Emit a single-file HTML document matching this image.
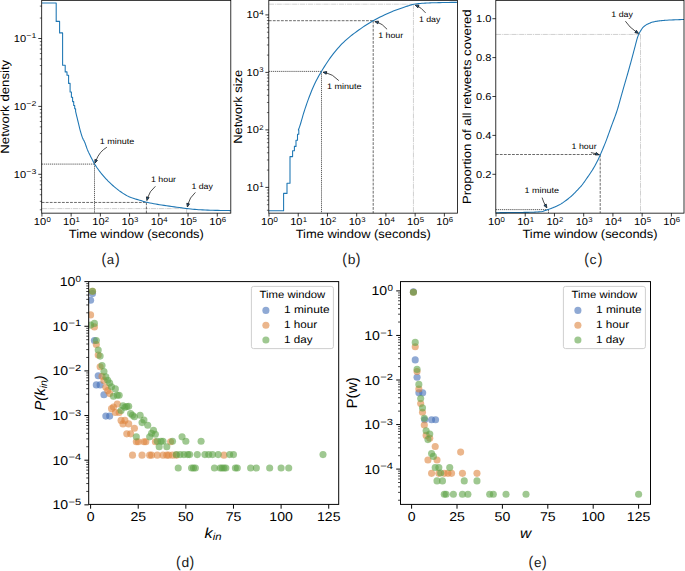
<!DOCTYPE html>
<html lang="en">
<head>
<meta charset="utf-8">
<title>Figure: time-window network statistics</title>
<style>
html,body{margin:0;padding:0;background:#fff;}
body{width:685px;height:571px;overflow:hidden;font-family:"Liberation Sans",sans-serif;}
svg{display:block;}
</style>
</head>
<body>
<svg width="685" height="571" viewBox="0 0 685 571" font-family='"Liberation Sans", sans-serif' text-rendering="geometricPrecision">
<rect x="0" y="0" width="685" height="571" fill="#fff"/>
<line x1="41.7" y1="208.6" x2="186.6" y2="208.6" stroke="#c2c2c2" stroke-width="0.78" stroke-dasharray="5.2 0.8 1.0 0.8"/>
<line x1="186.6" y1="208.6" x2="186.6" y2="213.15" stroke="#c2c2c2" stroke-width="0.78" stroke-dasharray="5.2 0.8 1.0 0.8"/>
<line x1="41.7" y1="202.45" x2="146.4" y2="202.45" stroke="#3a3a3a" stroke-width="0.75" stroke-dasharray="2.8 1.25"/>
<line x1="146.4" y1="202.45" x2="146.4" y2="213.15" stroke="#3a3a3a" stroke-width="0.75" stroke-dasharray="2.8 1.25"/>
<line x1="41.7" y1="164.1" x2="94.5" y2="164.1" stroke="#303030" stroke-width="0.75" stroke-dasharray="1.3 0.75"/>
<line x1="94.5" y1="164.1" x2="94.5" y2="213.15" stroke="#303030" stroke-width="0.75" stroke-dasharray="1.3 0.75"/>
<clipPath id="ca"><rect x="41.7" y="0.35" width="189.1" height="212.8"/></clipPath>
<polyline points="41.9,3 56.2,3 56.2,21.4 59.6,21.4 59.6,32.9 62.6,32.9 62.6,65.2 65.2,65.2 65.2,71.9 67,71.9 67,75.2 68.6,75.2 68.6,83.4 70.1,83.4 70.1,92 71.4,92 71.4,97.3 72.6,97.3 72.6,101.6 73.7,101.6 73.7,105.5 74.7,105.5 74.7,108.7 75.6,108.7 75.6,111.5 75.6,111.5 75.89,112.69 76.17,113.88 76.46,115.07 76.75,116.26 77.04,117.45 77.33,118.64 77.61,119.82 77.9,121 78.23,122.34 78.55,123.71 78.88,125.08 79.2,126.44 79.53,127.78 79.85,129.08 80.17,130.33 80.5,131.5 80.76,132.41 81.03,133.31 81.29,134.18 81.55,135.03 81.81,135.84 82.07,136.61 82.34,137.33 82.6,138 82.86,138.6 83.12,139.15 83.39,139.65 83.65,140.13 83.91,140.61 84.17,141.1 84.44,141.63 84.7,142.2 85.03,143 85.35,143.88 85.67,144.81 86,145.77 86.33,146.74 86.65,147.68 86.97,148.58 87.3,149.4 87.96,150.93 88.62,152.38 89.29,153.76 89.95,155.09 90.61,156.38 91.27,157.65 91.94,158.92 92.6,160.2 92.85,160.69 93.1,161.19 93.35,161.68 93.6,162.17 93.85,162.66 94.1,163.12 94.35,163.57 94.6,164 95.47,165.41 96.35,166.76 97.22,168.05 98.1,169.28 98.97,170.46 99.85,171.61 100.72,172.72 101.6,173.8 102.69,175.11 103.77,176.38 104.86,177.62 105.95,178.81 107.04,179.96 108.12,181.08 109.21,182.16 110.3,183.2 111.55,184.36 112.8,185.5 114.05,186.6 115.3,187.67 116.55,188.7 117.8,189.68 119.05,190.62 120.3,191.5 121.47,192.3 122.65,193.08 123.82,193.84 125,194.57 126.17,195.25 127.35,195.89 128.52,196.48 129.7,197 131.11,197.56 132.52,198.06 133.94,198.52 135.35,198.95 136.76,199.36 138.18,199.77 139.59,200.18 141,200.6 141.62,200.8 142.25,200.99 142.88,201.19 143.5,201.39 144.12,201.58 144.75,201.77 145.38,201.94 146,202.1 147.94,202.55 149.88,202.96 151.81,203.34 153.75,203.7 155.69,204.04 157.62,204.37 159.56,204.69 161.5,205 164.06,205.4 166.62,205.79 169.19,206.15 171.75,206.51 174.31,206.85 176.88,207.2 179.44,207.55 182,207.9 182.62,207.99 183.25,208.08 183.88,208.18 184.5,208.27 185.12,208.36 185.75,208.45 186.38,208.53 187,208.6 188.94,208.81 190.88,209.01 192.81,209.2 194.75,209.38 196.69,209.54 198.62,209.68 200.56,209.8 202.5,209.9 205.06,210.01 207.62,210.11 210.19,210.19 212.75,210.27 215.31,210.34 217.88,210.4 220.44,210.45 223,210.5 223.97,210.52 224.95,210.53 225.93,210.54 226.9,210.55 227.88,210.57 228.85,210.58 229.83,210.59 230.8,210.6" fill="none" stroke="#1f77b4" stroke-width="1.08" stroke-linejoin="round" stroke-linecap="butt" clip-path="url(#ca)"/>
<line x1="38.3" y1="38.5" x2="41.7" y2="38.5" stroke="#000" stroke-width="0.78"/>
<text x="13.85" y="41.95" font-size="10.09" textLength="12.34" lengthAdjust="spacingAndGlyphs">10</text>
<text x="26.39" y="38.43" font-size="7.06" textLength="10.01" lengthAdjust="spacingAndGlyphs">−1</text>
<line x1="38.3" y1="106.4" x2="41.7" y2="106.4" stroke="#000" stroke-width="0.78"/>
<text x="13.85" y="109.85" font-size="10.09" textLength="12.34" lengthAdjust="spacingAndGlyphs">10</text>
<text x="26.39" y="106.33" font-size="7.06" textLength="10.01" lengthAdjust="spacingAndGlyphs">−2</text>
<line x1="38.3" y1="174.3" x2="41.7" y2="174.3" stroke="#000" stroke-width="0.78"/>
<text x="13.85" y="177.75" font-size="10.09" textLength="12.34" lengthAdjust="spacingAndGlyphs">10</text>
<text x="26.39" y="174.23" font-size="7.06" textLength="10.01" lengthAdjust="spacingAndGlyphs">−3</text>
<line x1="39.8" y1="209.8" x2="41.7" y2="209.8" stroke="#000" stroke-width="0.58"/>
<line x1="39.8" y1="201.32" x2="41.7" y2="201.32" stroke="#000" stroke-width="0.58"/>
<line x1="39.8" y1="194.74" x2="41.7" y2="194.74" stroke="#000" stroke-width="0.58"/>
<line x1="39.8" y1="189.36" x2="41.7" y2="189.36" stroke="#000" stroke-width="0.58"/>
<line x1="39.8" y1="184.82" x2="41.7" y2="184.82" stroke="#000" stroke-width="0.58"/>
<line x1="39.8" y1="180.88" x2="41.7" y2="180.88" stroke="#000" stroke-width="0.58"/>
<line x1="39.8" y1="177.41" x2="41.7" y2="177.41" stroke="#000" stroke-width="0.58"/>
<line x1="39.8" y1="153.86" x2="41.7" y2="153.86" stroke="#000" stroke-width="0.58"/>
<line x1="39.8" y1="141.9" x2="41.7" y2="141.9" stroke="#000" stroke-width="0.58"/>
<line x1="39.8" y1="133.42" x2="41.7" y2="133.42" stroke="#000" stroke-width="0.58"/>
<line x1="39.8" y1="126.84" x2="41.7" y2="126.84" stroke="#000" stroke-width="0.58"/>
<line x1="39.8" y1="121.46" x2="41.7" y2="121.46" stroke="#000" stroke-width="0.58"/>
<line x1="39.8" y1="116.92" x2="41.7" y2="116.92" stroke="#000" stroke-width="0.58"/>
<line x1="39.8" y1="112.98" x2="41.7" y2="112.98" stroke="#000" stroke-width="0.58"/>
<line x1="39.8" y1="109.51" x2="41.7" y2="109.51" stroke="#000" stroke-width="0.58"/>
<line x1="39.8" y1="85.96" x2="41.7" y2="85.96" stroke="#000" stroke-width="0.58"/>
<line x1="39.8" y1="74" x2="41.7" y2="74" stroke="#000" stroke-width="0.58"/>
<line x1="39.8" y1="65.52" x2="41.7" y2="65.52" stroke="#000" stroke-width="0.58"/>
<line x1="39.8" y1="58.94" x2="41.7" y2="58.94" stroke="#000" stroke-width="0.58"/>
<line x1="39.8" y1="53.56" x2="41.7" y2="53.56" stroke="#000" stroke-width="0.58"/>
<line x1="39.8" y1="49.02" x2="41.7" y2="49.02" stroke="#000" stroke-width="0.58"/>
<line x1="39.8" y1="45.08" x2="41.7" y2="45.08" stroke="#000" stroke-width="0.58"/>
<line x1="39.8" y1="41.61" x2="41.7" y2="41.61" stroke="#000" stroke-width="0.58"/>
<line x1="39.8" y1="18.06" x2="41.7" y2="18.06" stroke="#000" stroke-width="0.58"/>
<line x1="39.8" y1="6.1" x2="41.7" y2="6.1" stroke="#000" stroke-width="0.58"/>
<rect x="41.7" y="0.35" width="189.1" height="212.8" fill="none" stroke="#000" stroke-width="0.8" rx="0"/>
<line x1="41.9" y1="213.15" x2="41.9" y2="216.55" stroke="#000" stroke-width="0.78"/>
<text x="33.87" y="225.1" font-size="10.09" textLength="12.34" lengthAdjust="spacingAndGlyphs">10</text>
<text x="46.41" y="221.58" font-size="7.06" textLength="4.32" lengthAdjust="spacingAndGlyphs">0</text>
<line x1="71.13" y1="213.15" x2="71.13" y2="216.55" stroke="#000" stroke-width="0.78"/>
<text x="63.1" y="225.1" font-size="10.09" textLength="12.34" lengthAdjust="spacingAndGlyphs">10</text>
<text x="75.64" y="221.58" font-size="7.06" textLength="4.32" lengthAdjust="spacingAndGlyphs">1</text>
<line x1="100.36" y1="213.15" x2="100.36" y2="216.55" stroke="#000" stroke-width="0.78"/>
<text x="92.33" y="225.1" font-size="10.09" textLength="12.34" lengthAdjust="spacingAndGlyphs">10</text>
<text x="104.87" y="221.58" font-size="7.06" textLength="4.32" lengthAdjust="spacingAndGlyphs">2</text>
<line x1="129.59" y1="213.15" x2="129.59" y2="216.55" stroke="#000" stroke-width="0.78"/>
<text x="121.56" y="225.1" font-size="10.09" textLength="12.34" lengthAdjust="spacingAndGlyphs">10</text>
<text x="134.1" y="221.58" font-size="7.06" textLength="4.32" lengthAdjust="spacingAndGlyphs">3</text>
<line x1="158.82" y1="213.15" x2="158.82" y2="216.55" stroke="#000" stroke-width="0.78"/>
<text x="150.79" y="225.1" font-size="10.09" textLength="12.34" lengthAdjust="spacingAndGlyphs">10</text>
<text x="163.33" y="221.58" font-size="7.06" textLength="4.32" lengthAdjust="spacingAndGlyphs">4</text>
<line x1="188.05" y1="213.15" x2="188.05" y2="216.55" stroke="#000" stroke-width="0.78"/>
<text x="180.02" y="225.1" font-size="10.09" textLength="12.34" lengthAdjust="spacingAndGlyphs">10</text>
<text x="192.56" y="221.58" font-size="7.06" textLength="4.32" lengthAdjust="spacingAndGlyphs">5</text>
<line x1="217.28" y1="213.15" x2="217.28" y2="216.55" stroke="#000" stroke-width="0.78"/>
<text x="209.25" y="225.1" font-size="10.09" textLength="12.34" lengthAdjust="spacingAndGlyphs">10</text>
<text x="221.79" y="221.58" font-size="7.06" textLength="4.32" lengthAdjust="spacingAndGlyphs">6</text>
<text x="68.77" y="238.3" font-size="11.96" textLength="135.06" lengthAdjust="spacingAndGlyphs" fill="#000">Time window (seconds)</text>
<text x="-38.12" y="106.75" font-size="11.96" textLength="93.84" lengthAdjust="spacingAndGlyphs" fill="#000" transform="rotate(-90 8.8 106.75)">Network density</text>
<text x="101.4" y="264.4" font-size="15.6" textLength="4.7" lengthAdjust="spacingAndGlyphs" fill="#1a1a1a">(</text>
<text x="106.8" y="263.9" font-size="13.2" textLength="7.4" lengthAdjust="spacingAndGlyphs" fill="#1a1a1a">a</text>
<text x="114.9" y="264.4" font-size="15.6" textLength="4.7" lengthAdjust="spacingAndGlyphs" fill="#1a1a1a">)</text>
<text x="99.7" y="143.9" font-size="8.01" textLength="34.5" lengthAdjust="spacingAndGlyphs" fill="#000">1 minute</text>
<path d="M106.9 147.2 Q99.5 151.5 96 160.41" fill="none" stroke="#111" stroke-width="0.75"/>
<polygon points="94.9,163.2 94.88,159.43 97.48,160.45" fill="#1f5f96" stroke="#111" stroke-width="0.75" stroke-linejoin="miter"/>
<text x="151" y="181.7" font-size="8.01" textLength="24.98" lengthAdjust="spacingAndGlyphs" fill="#000">1 hour</text>
<path d="M155.4 186.3 Q149.3 191.5 147.67 197.7" fill="none" stroke="#111" stroke-width="0.75"/>
<polygon points="146.9,200.6 146.44,196.86 149.15,197.57" fill="#1f5f96" stroke="#111" stroke-width="0.75" stroke-linejoin="miter"/>
<text x="191.4" y="188.5" font-size="8.01" textLength="21.51" lengthAdjust="spacingAndGlyphs" fill="#000">1 day</text>
<path d="M195.4 192.4 Q189.4 197.8 188.04 204.07" fill="none" stroke="#111" stroke-width="0.75"/>
<polygon points="187.4,207 186.78,203.28 189.51,203.88" fill="#1f5f96" stroke="#111" stroke-width="0.75" stroke-linejoin="miter"/>
<line x1="268.8" y1="4.2" x2="413.45" y2="4.2" stroke="#c2c2c2" stroke-width="0.78" stroke-dasharray="5.2 0.8 1.0 0.8"/>
<line x1="413.45" y1="4.2" x2="413.45" y2="213.15" stroke="#c2c2c2" stroke-width="0.78" stroke-dasharray="5.2 0.8 1.0 0.8"/>
<line x1="268.8" y1="20.7" x2="373.2" y2="20.7" stroke="#3a3a3a" stroke-width="0.75" stroke-dasharray="2.8 1.25"/>
<line x1="373.2" y1="20.7" x2="373.2" y2="213.15" stroke="#3a3a3a" stroke-width="0.75" stroke-dasharray="2.8 1.25"/>
<line x1="268.8" y1="71.4" x2="321.5" y2="71.4" stroke="#303030" stroke-width="0.75" stroke-dasharray="1.3 0.75"/>
<line x1="321.5" y1="71.4" x2="321.5" y2="213.15" stroke="#303030" stroke-width="0.75" stroke-dasharray="1.3 0.75"/>
<clipPath id="cb"><rect x="268.8" y="0.35" width="188.8" height="212.8"/></clipPath>
<polyline points="269,210.8 283.6,210.8 283.6,193.4 287,193.4 287,183.3 290,183.3 290,156.6 292.6,156.6 292.6,150.7 294.4,150.7 294.4,146.4 296,146.4 296,140.3 297.5,140.3 297.5,134.2 298.8,134.2 298.8,130 298.4,130 298.57,129.52 298.75,129.04 298.93,128.56 299.1,128.09 299.27,127.61 299.45,127.12 299.62,126.62 299.8,126.1 300.32,124.47 300.85,122.74 301.38,120.95 301.9,119.12 302.43,117.28 302.95,115.46 303.48,113.69 304,112 304.54,110.33 305.07,108.68 305.61,107.05 306.15,105.46 306.69,103.89 307.23,102.36 307.76,100.86 308.3,99.4 309.09,97.3 309.88,95.24 310.66,93.22 311.45,91.24 312.24,89.33 313.03,87.48 313.81,85.7 314.6,84 315.45,82.25 316.3,80.57 317.15,78.94 318,77.37 318.85,75.85 319.7,74.37 320.55,72.92 321.4,71.5 322.9,69.04 324.4,66.63 325.9,64.29 327.4,62.01 328.9,59.81 330.4,57.68 331.9,55.64 333.4,53.7 334.85,51.89 336.3,50.14 337.75,48.45 339.2,46.82 340.65,45.24 342.1,43.73 343.55,42.28 345,40.9 346.46,39.57 347.93,38.3 349.39,37.08 350.85,35.9 352.31,34.76 353.77,33.65 355.24,32.57 356.7,31.5 358.75,30.03 360.8,28.59 362.85,27.18 364.9,25.81 366.95,24.49 369,23.2 371.05,21.98 373.1,20.8 375.44,19.51 377.78,18.27 380.11,17.06 382.45,15.9 384.79,14.78 387.12,13.71 389.46,12.68 391.8,11.7 393.25,11.12 394.7,10.55 396.15,10.01 397.6,9.48 399.05,8.97 400.5,8.47 401.95,7.98 403.4,7.5 404.71,7.05 406.02,6.59 407.34,6.12 408.65,5.67 409.96,5.24 411.27,4.86 412.59,4.54 413.9,4.3 415.51,4.06 417.12,3.85 418.74,3.65 420.35,3.48 421.96,3.32 423.57,3.19 425.19,3.09 426.8,3 428.45,2.93 430.1,2.86 431.75,2.81 433.4,2.76 435.05,2.72 436.7,2.67 438.35,2.64 440,2.6 442.2,2.55 444.4,2.51 446.6,2.47 448.8,2.44 451,2.4 453.2,2.37 455.4,2.34 457.6,2.3" fill="none" stroke="#1f77b4" stroke-width="1.08" stroke-linejoin="round" stroke-linecap="butt" clip-path="url(#cb)"/>
<line x1="265.4" y1="187.4" x2="268.8" y2="187.4" stroke="#000" stroke-width="0.78"/>
<text x="246.64" y="190.85" font-size="10.09" textLength="12.34" lengthAdjust="spacingAndGlyphs">10</text>
<text x="259.18" y="187.33" font-size="7.06" textLength="4.32" lengthAdjust="spacingAndGlyphs">1</text>
<line x1="265.4" y1="129.9" x2="268.8" y2="129.9" stroke="#000" stroke-width="0.78"/>
<text x="246.64" y="133.35" font-size="10.09" textLength="12.34" lengthAdjust="spacingAndGlyphs">10</text>
<text x="259.18" y="129.83" font-size="7.06" textLength="4.32" lengthAdjust="spacingAndGlyphs">2</text>
<line x1="265.4" y1="72.4" x2="268.8" y2="72.4" stroke="#000" stroke-width="0.78"/>
<text x="246.64" y="75.85" font-size="10.09" textLength="12.34" lengthAdjust="spacingAndGlyphs">10</text>
<text x="259.18" y="72.33" font-size="7.06" textLength="4.32" lengthAdjust="spacingAndGlyphs">3</text>
<line x1="265.4" y1="14.9" x2="268.8" y2="14.9" stroke="#000" stroke-width="0.78"/>
<text x="246.64" y="18.35" font-size="10.09" textLength="12.34" lengthAdjust="spacingAndGlyphs">10</text>
<text x="259.18" y="14.83" font-size="7.06" textLength="4.32" lengthAdjust="spacingAndGlyphs">4</text>
<line x1="266.9" y1="210.28" x2="268.8" y2="210.28" stroke="#000" stroke-width="0.58"/>
<line x1="266.9" y1="204.71" x2="268.8" y2="204.71" stroke="#000" stroke-width="0.58"/>
<line x1="266.9" y1="200.16" x2="268.8" y2="200.16" stroke="#000" stroke-width="0.58"/>
<line x1="266.9" y1="196.31" x2="268.8" y2="196.31" stroke="#000" stroke-width="0.58"/>
<line x1="266.9" y1="192.97" x2="268.8" y2="192.97" stroke="#000" stroke-width="0.58"/>
<line x1="266.9" y1="190.03" x2="268.8" y2="190.03" stroke="#000" stroke-width="0.58"/>
<line x1="266.9" y1="170.09" x2="268.8" y2="170.09" stroke="#000" stroke-width="0.58"/>
<line x1="266.9" y1="159.97" x2="268.8" y2="159.97" stroke="#000" stroke-width="0.58"/>
<line x1="266.9" y1="152.78" x2="268.8" y2="152.78" stroke="#000" stroke-width="0.58"/>
<line x1="266.9" y1="147.21" x2="268.8" y2="147.21" stroke="#000" stroke-width="0.58"/>
<line x1="266.9" y1="142.66" x2="268.8" y2="142.66" stroke="#000" stroke-width="0.58"/>
<line x1="266.9" y1="138.81" x2="268.8" y2="138.81" stroke="#000" stroke-width="0.58"/>
<line x1="266.9" y1="135.47" x2="268.8" y2="135.47" stroke="#000" stroke-width="0.58"/>
<line x1="266.9" y1="132.53" x2="268.8" y2="132.53" stroke="#000" stroke-width="0.58"/>
<line x1="266.9" y1="112.59" x2="268.8" y2="112.59" stroke="#000" stroke-width="0.58"/>
<line x1="266.9" y1="102.47" x2="268.8" y2="102.47" stroke="#000" stroke-width="0.58"/>
<line x1="266.9" y1="95.28" x2="268.8" y2="95.28" stroke="#000" stroke-width="0.58"/>
<line x1="266.9" y1="89.71" x2="268.8" y2="89.71" stroke="#000" stroke-width="0.58"/>
<line x1="266.9" y1="85.16" x2="268.8" y2="85.16" stroke="#000" stroke-width="0.58"/>
<line x1="266.9" y1="81.31" x2="268.8" y2="81.31" stroke="#000" stroke-width="0.58"/>
<line x1="266.9" y1="77.97" x2="268.8" y2="77.97" stroke="#000" stroke-width="0.58"/>
<line x1="266.9" y1="75.03" x2="268.8" y2="75.03" stroke="#000" stroke-width="0.58"/>
<line x1="266.9" y1="55.09" x2="268.8" y2="55.09" stroke="#000" stroke-width="0.58"/>
<line x1="266.9" y1="44.97" x2="268.8" y2="44.97" stroke="#000" stroke-width="0.58"/>
<line x1="266.9" y1="37.78" x2="268.8" y2="37.78" stroke="#000" stroke-width="0.58"/>
<line x1="266.9" y1="32.21" x2="268.8" y2="32.21" stroke="#000" stroke-width="0.58"/>
<line x1="266.9" y1="27.66" x2="268.8" y2="27.66" stroke="#000" stroke-width="0.58"/>
<line x1="266.9" y1="23.81" x2="268.8" y2="23.81" stroke="#000" stroke-width="0.58"/>
<line x1="266.9" y1="20.47" x2="268.8" y2="20.47" stroke="#000" stroke-width="0.58"/>
<line x1="266.9" y1="17.53" x2="268.8" y2="17.53" stroke="#000" stroke-width="0.58"/>
<rect x="268.8" y="0.35" width="188.8" height="212.8" fill="none" stroke="#000" stroke-width="0.8" rx="0"/>
<line x1="269" y1="213.15" x2="269" y2="216.55" stroke="#000" stroke-width="0.78"/>
<text x="260.97" y="225.1" font-size="10.09" textLength="12.34" lengthAdjust="spacingAndGlyphs">10</text>
<text x="273.51" y="221.58" font-size="7.06" textLength="4.32" lengthAdjust="spacingAndGlyphs">0</text>
<line x1="298.23" y1="213.15" x2="298.23" y2="216.55" stroke="#000" stroke-width="0.78"/>
<text x="290.2" y="225.1" font-size="10.09" textLength="12.34" lengthAdjust="spacingAndGlyphs">10</text>
<text x="302.74" y="221.58" font-size="7.06" textLength="4.32" lengthAdjust="spacingAndGlyphs">1</text>
<line x1="327.46" y1="213.15" x2="327.46" y2="216.55" stroke="#000" stroke-width="0.78"/>
<text x="319.43" y="225.1" font-size="10.09" textLength="12.34" lengthAdjust="spacingAndGlyphs">10</text>
<text x="331.97" y="221.58" font-size="7.06" textLength="4.32" lengthAdjust="spacingAndGlyphs">2</text>
<line x1="356.69" y1="213.15" x2="356.69" y2="216.55" stroke="#000" stroke-width="0.78"/>
<text x="348.66" y="225.1" font-size="10.09" textLength="12.34" lengthAdjust="spacingAndGlyphs">10</text>
<text x="361.2" y="221.58" font-size="7.06" textLength="4.32" lengthAdjust="spacingAndGlyphs">3</text>
<line x1="385.92" y1="213.15" x2="385.92" y2="216.55" stroke="#000" stroke-width="0.78"/>
<text x="377.89" y="225.1" font-size="10.09" textLength="12.34" lengthAdjust="spacingAndGlyphs">10</text>
<text x="390.43" y="221.58" font-size="7.06" textLength="4.32" lengthAdjust="spacingAndGlyphs">4</text>
<line x1="415.15" y1="213.15" x2="415.15" y2="216.55" stroke="#000" stroke-width="0.78"/>
<text x="407.12" y="225.1" font-size="10.09" textLength="12.34" lengthAdjust="spacingAndGlyphs">10</text>
<text x="419.66" y="221.58" font-size="7.06" textLength="4.32" lengthAdjust="spacingAndGlyphs">5</text>
<line x1="444.38" y1="213.15" x2="444.38" y2="216.55" stroke="#000" stroke-width="0.78"/>
<text x="436.35" y="225.1" font-size="10.09" textLength="12.34" lengthAdjust="spacingAndGlyphs">10</text>
<text x="448.89" y="221.58" font-size="7.06" textLength="4.32" lengthAdjust="spacingAndGlyphs">6</text>
<text x="295.67" y="238.3" font-size="11.96" textLength="135.06" lengthAdjust="spacingAndGlyphs" fill="#000">Time window (seconds)</text>
<text x="204.92" y="106.75" font-size="11.96" textLength="73.97" lengthAdjust="spacingAndGlyphs" fill="#000" transform="rotate(-90 241.9 106.75)">Network size</text>
<text x="342.3" y="264.4" font-size="15.6" textLength="4.7" lengthAdjust="spacingAndGlyphs" fill="#1a1a1a">(</text>
<text x="347.7" y="263.9" font-size="13.2" textLength="7.7" lengthAdjust="spacingAndGlyphs" fill="#1a1a1a">b</text>
<text x="355.8" y="264.4" font-size="15.6" textLength="4.7" lengthAdjust="spacingAndGlyphs" fill="#1a1a1a">)</text>
<text x="327" y="88.6" font-size="8.01" textLength="34.5" lengthAdjust="spacingAndGlyphs" fill="#000">1 minute</text>
<path d="M338.8 80.6 Q332.5 74 325.95 72.76" fill="none" stroke="#111" stroke-width="0.75"/>
<polygon points="323,72.2 326.7,71.48 326.18,74.23" fill="#1f5f96" stroke="#111" stroke-width="0.75" stroke-linejoin="miter"/>
<text x="378.2" y="37.8" font-size="8.01" textLength="24.98" lengthAdjust="spacingAndGlyphs" fill="#000">1 hour</text>
<path d="M387.1 29.3 Q382 23.5 377.7 22.37" fill="none" stroke="#111" stroke-width="0.75"/>
<polygon points="374.8,21.6 378.54,21.14 377.83,23.85" fill="#1f5f96" stroke="#111" stroke-width="0.75" stroke-linejoin="miter"/>
<text x="418.9" y="21.5" font-size="8.01" textLength="21.51" lengthAdjust="spacingAndGlyphs" fill="#000">1 day</text>
<path d="M425.6 12.9 Q421 7.5 417.99 6.31" fill="none" stroke="#111" stroke-width="0.75"/>
<polygon points="415.2,5.2 418.97,5.19 417.94,7.79" fill="#1f5f96" stroke="#111" stroke-width="0.75" stroke-linejoin="miter"/>
<line x1="495.8" y1="34.45" x2="640.5" y2="34.45" stroke="#c2c2c2" stroke-width="0.78" stroke-dasharray="5.2 0.8 1.0 0.8"/>
<line x1="640.5" y1="34.45" x2="640.5" y2="213.15" stroke="#c2c2c2" stroke-width="0.78" stroke-dasharray="5.2 0.8 1.0 0.8"/>
<line x1="495.8" y1="154.5" x2="600.2" y2="154.5" stroke="#3a3a3a" stroke-width="0.75" stroke-dasharray="2.8 1.25"/>
<line x1="600.2" y1="154.5" x2="600.2" y2="213.15" stroke="#3a3a3a" stroke-width="0.75" stroke-dasharray="2.8 1.25"/>
<line x1="495.8" y1="209.6" x2="548.5" y2="209.6" stroke="#303030" stroke-width="0.75" stroke-dasharray="1.3 0.75"/>
<line x1="548.5" y1="209.6" x2="548.5" y2="213.15" stroke="#303030" stroke-width="0.75" stroke-dasharray="1.3 0.75"/>
<polyline points="496,212.7 498.38,212.68 500.75,212.65 503.12,212.63 505.5,212.6 507.88,212.58 510.25,212.55 512.62,212.53 515,212.5 516.88,212.48 518.75,212.46 520.62,212.44 522.5,212.42 524.38,212.4 526.25,212.37 528.12,212.34 530,212.3 531.25,212.27 532.5,212.23 533.75,212.19 535,212.13 536.25,212.07 537.5,211.99 538.75,211.9 540,211.8 541.05,211.67 542.1,211.45 543.15,211.18 544.2,210.86 545.25,210.5 546.3,210.13 547.35,209.76 548.4,209.4 549.32,209.09 550.25,208.76 551.17,208.41 552.1,208.05 553.02,207.68 553.95,207.3 554.88,206.9 555.8,206.5 556.45,206.21 557.1,205.91 557.75,205.61 558.4,205.29 559.05,204.96 559.7,204.62 560.35,204.27 561,203.9 561.66,203.5 562.33,203.07 562.99,202.63 563.65,202.16 564.31,201.68 564.97,201.19 565.64,200.7 566.3,200.2 566.95,199.71 567.6,199.21 568.25,198.71 568.9,198.19 569.55,197.67 570.2,197.13 570.85,196.57 571.5,196 572.16,195.39 572.83,194.77 573.49,194.12 574.15,193.45 574.81,192.77 575.47,192.09 576.14,191.39 576.8,190.7 577.45,190.02 578.1,189.34 578.75,188.66 579.4,187.97 580.05,187.26 580.7,186.53 581.35,185.78 582,185 582.66,184.16 583.33,183.29 583.99,182.38 584.65,181.44 585.31,180.49 585.97,179.53 586.64,178.56 587.3,177.6 587.96,176.65 588.62,175.7 589.29,174.74 589.95,173.78 590.61,172.8 591.27,171.79 591.94,170.76 592.6,169.7 593.25,168.63 593.9,167.53 594.55,166.4 595.2,165.25 595.85,164.06 596.5,162.84 597.15,161.59 597.8,160.3 598.1,159.68 598.4,159.05 598.7,158.4 599,157.73 599.3,157.06 599.6,156.37 599.9,155.69 600.2,155 600.9,153.4 601.6,151.78 602.3,150.15 603,148.49 603.7,146.82 604.4,145.11 605.1,143.37 605.8,141.6 606.46,139.87 607.12,138.09 607.79,136.27 608.45,134.43 609.11,132.57 609.77,130.7 610.44,128.84 611.1,127 611.88,124.89 612.65,122.83 613.42,120.79 614.2,118.74 614.98,116.65 615.75,114.49 616.52,112.26 617.3,109.9 617.7,108.62 618.1,107.27 618.5,105.88 618.9,104.46 619.3,103.02 619.7,101.57 620.1,100.12 620.5,98.7 620.89,97.33 621.27,95.95 621.66,94.57 622.05,93.19 622.44,91.81 622.83,90.43 623.21,89.06 623.6,87.7 624,86.31 624.4,84.93 624.8,83.56 625.2,82.2 625.6,80.84 626,79.47 626.4,78.09 626.8,76.7 627.19,75.34 627.57,73.98 627.96,72.62 628.35,71.25 628.74,69.87 629.12,68.49 629.51,67.1 629.9,65.7 630.3,64.25 630.7,62.79 631.1,61.32 631.5,59.85 631.9,58.37 632.3,56.88 632.7,55.39 633.1,53.9 633.39,52.82 633.67,51.73 633.96,50.64 634.25,49.55 634.54,48.45 634.83,47.36 635.11,46.28 635.4,45.2 635.66,44.2 635.92,43.18 636.19,42.15 636.45,41.13 636.71,40.14 636.98,39.19 637.24,38.31 637.5,37.5 637.7,36.93 637.9,36.39 638.1,35.88 638.3,35.38 638.5,34.91 638.7,34.46 638.9,34.02 639.1,33.6 639.29,33.22 639.48,32.85 639.66,32.5 639.85,32.16 640.04,31.83 640.23,31.51 640.41,31.2 640.6,30.9 640.94,30.36 641.27,29.82 641.61,29.3 641.95,28.79 642.29,28.31 642.62,27.86 642.96,27.45 643.3,27.1 643.79,26.64 644.27,26.22 644.76,25.83 645.25,25.48 645.74,25.14 646.23,24.84 646.71,24.56 647.2,24.3 647.99,23.91 648.78,23.54 649.56,23.2 650.35,22.88 651.14,22.59 651.92,22.33 652.71,22.1 653.5,21.9 654.31,21.72 655.12,21.55 655.94,21.39 656.75,21.25 657.56,21.12 658.38,21 659.19,20.9 660,20.8 660.88,20.7 661.75,20.61 662.62,20.53 663.5,20.45 664.38,20.38 665.25,20.31 666.12,20.25 667,20.2 669.12,20.08 671.25,19.98 673.38,19.89 675.5,19.81 677.62,19.74 679.75,19.66 681.88,19.58 684,19.5" fill="none" stroke="#1f77b4" stroke-width="1.08" stroke-linejoin="round" stroke-linecap="butt"/>
<line x1="492.4" y1="174.3" x2="495.8" y2="174.3" stroke="#000" stroke-width="0.78"/>
<text x="476.07" y="177.75" font-size="10.09" textLength="15.43" lengthAdjust="spacingAndGlyphs" fill="#000">0.2</text>
<line x1="492.4" y1="135.4" x2="495.8" y2="135.4" stroke="#000" stroke-width="0.78"/>
<text x="476.07" y="138.85" font-size="10.09" textLength="15.43" lengthAdjust="spacingAndGlyphs" fill="#000">0.4</text>
<line x1="492.4" y1="96.5" x2="495.8" y2="96.5" stroke="#000" stroke-width="0.78"/>
<text x="476.07" y="99.95" font-size="10.09" textLength="15.43" lengthAdjust="spacingAndGlyphs" fill="#000">0.6</text>
<line x1="492.4" y1="57.6" x2="495.8" y2="57.6" stroke="#000" stroke-width="0.78"/>
<text x="476.07" y="61.05" font-size="10.09" textLength="15.43" lengthAdjust="spacingAndGlyphs" fill="#000">0.8</text>
<line x1="492.4" y1="18.7" x2="495.8" y2="18.7" stroke="#000" stroke-width="0.78"/>
<text x="476.07" y="22.15" font-size="10.09" textLength="15.43" lengthAdjust="spacingAndGlyphs" fill="#000">1.0</text>
<rect x="495.8" y="0.35" width="188.2" height="212.8" fill="none" stroke="#000" stroke-width="0.8" rx="0"/>
<line x1="496" y1="213.15" x2="496" y2="216.55" stroke="#000" stroke-width="0.78"/>
<text x="487.97" y="225.1" font-size="10.09" textLength="12.34" lengthAdjust="spacingAndGlyphs">10</text>
<text x="500.51" y="221.58" font-size="7.06" textLength="4.32" lengthAdjust="spacingAndGlyphs">0</text>
<line x1="525.23" y1="213.15" x2="525.23" y2="216.55" stroke="#000" stroke-width="0.78"/>
<text x="517.2" y="225.1" font-size="10.09" textLength="12.34" lengthAdjust="spacingAndGlyphs">10</text>
<text x="529.74" y="221.58" font-size="7.06" textLength="4.32" lengthAdjust="spacingAndGlyphs">1</text>
<line x1="554.46" y1="213.15" x2="554.46" y2="216.55" stroke="#000" stroke-width="0.78"/>
<text x="546.43" y="225.1" font-size="10.09" textLength="12.34" lengthAdjust="spacingAndGlyphs">10</text>
<text x="558.97" y="221.58" font-size="7.06" textLength="4.32" lengthAdjust="spacingAndGlyphs">2</text>
<line x1="583.69" y1="213.15" x2="583.69" y2="216.55" stroke="#000" stroke-width="0.78"/>
<text x="575.66" y="225.1" font-size="10.09" textLength="12.34" lengthAdjust="spacingAndGlyphs">10</text>
<text x="588.2" y="221.58" font-size="7.06" textLength="4.32" lengthAdjust="spacingAndGlyphs">3</text>
<line x1="612.92" y1="213.15" x2="612.92" y2="216.55" stroke="#000" stroke-width="0.78"/>
<text x="604.89" y="225.1" font-size="10.09" textLength="12.34" lengthAdjust="spacingAndGlyphs">10</text>
<text x="617.43" y="221.58" font-size="7.06" textLength="4.32" lengthAdjust="spacingAndGlyphs">4</text>
<line x1="642.15" y1="213.15" x2="642.15" y2="216.55" stroke="#000" stroke-width="0.78"/>
<text x="634.12" y="225.1" font-size="10.09" textLength="12.34" lengthAdjust="spacingAndGlyphs">10</text>
<text x="646.66" y="221.58" font-size="7.06" textLength="4.32" lengthAdjust="spacingAndGlyphs">5</text>
<line x1="671.38" y1="213.15" x2="671.38" y2="216.55" stroke="#000" stroke-width="0.78"/>
<text x="663.35" y="225.1" font-size="10.09" textLength="12.34" lengthAdjust="spacingAndGlyphs">10</text>
<text x="675.89" y="221.58" font-size="7.06" textLength="4.32" lengthAdjust="spacingAndGlyphs">6</text>
<text x="522.47" y="238.3" font-size="11.96" textLength="135.06" lengthAdjust="spacingAndGlyphs" fill="#000">Time window (seconds)</text>
<text x="373.77" y="106.75" font-size="11.96" textLength="194.67" lengthAdjust="spacingAndGlyphs" fill="#000" transform="rotate(-90 471.1 106.75)">Proportion of all retweets covered</text>
<text x="584.2" y="264.4" font-size="15.6" textLength="4.7" lengthAdjust="spacingAndGlyphs" fill="#1a1a1a">(</text>
<text x="589.6" y="263.9" font-size="13.2" textLength="7" lengthAdjust="spacingAndGlyphs" fill="#1a1a1a">c</text>
<text x="597.7" y="264.4" font-size="15.6" textLength="4.7" lengthAdjust="spacingAndGlyphs" fill="#1a1a1a">)</text>
<text x="524.5" y="193.4" font-size="8.01" textLength="34.5" lengthAdjust="spacingAndGlyphs" fill="#000">1 minute</text>
<path d="M542.1 197.6 Q543.6 202.5 545.31 205.25" fill="none" stroke="#111" stroke-width="0.75"/>
<polygon points="546.9,207.8 543.86,205.57 546.24,204.09" fill="#1f5f96" stroke="#111" stroke-width="0.75" stroke-linejoin="miter"/>
<text x="571.6" y="148.7" font-size="8.01" textLength="24.98" lengthAdjust="spacingAndGlyphs" fill="#000">1 hour</text>
<path d="M590.9 152.6 Q594.5 153.3 596.25 153.87" fill="none" stroke="#111" stroke-width="0.75"/>
<polygon points="599.1,154.8 595.34,155.05 596.21,152.38" fill="#1f5f96" stroke="#111" stroke-width="0.75" stroke-linejoin="miter"/>
<text x="611.3" y="16.9" font-size="8.01" textLength="21.51" lengthAdjust="spacingAndGlyphs" fill="#000">1 day</text>
<path d="M625.4 21.2 Q629.5 27.5 636.08 31.77" fill="none" stroke="#111" stroke-width="0.75"/>
<polygon points="638.6,33.4 634.9,32.67 636.42,30.32" fill="#1f5f96" stroke="#111" stroke-width="0.75" stroke-linejoin="miter"/>
<clipPath id="cd"><rect x="88.7" y="281.6" width="250" height="222.8"/></clipPath>
<g fill="#4470b8" fill-opacity="0.6" clip-path="url(#cd)">
<circle cx="90.6" cy="300.3" r="3.55"/>
<circle cx="92.5" cy="293.6" r="3.55"/>
<circle cx="94.41" cy="340.6" r="3.55"/>
<circle cx="96.31" cy="384.91" r="3.55"/>
<circle cx="98.22" cy="375.8" r="3.55"/>
<circle cx="100.12" cy="384.91" r="3.55"/>
<circle cx="103.94" cy="394.82" r="3.55"/>
<circle cx="105.84" cy="416.12" r="3.55"/>
<circle cx="109.65" cy="416.12" r="3.55"/>
</g>
<g fill="#de853f" fill-opacity="0.6" clip-path="url(#cd)">
<circle cx="90.6" cy="314.9" r="3.55"/>
<circle cx="92.5" cy="291.2" r="3.55"/>
<circle cx="94.41" cy="326.9" r="3.55"/>
<circle cx="96.31" cy="344.5" r="3.55"/>
<circle cx="98.22" cy="355" r="3.55"/>
<circle cx="100.12" cy="366.8" r="3.55"/>
<circle cx="102.03" cy="376.3" r="3.55"/>
<circle cx="103.94" cy="380.6" r="3.55"/>
<circle cx="105.84" cy="387.3" r="3.55"/>
<circle cx="107.74" cy="390.6" r="3.55"/>
<circle cx="109.65" cy="393.6" r="3.55"/>
<circle cx="111.55" cy="408.63" r="3.55"/>
<circle cx="113.46" cy="406.95" r="3.55"/>
<circle cx="115.36" cy="412.52" r="3.55"/>
<circle cx="117.27" cy="403.96" r="3.55"/>
<circle cx="119.17" cy="412.52" r="3.55"/>
<circle cx="121.08" cy="420.39" r="3.55"/>
<circle cx="122.98" cy="423.92" r="3.55"/>
<circle cx="124.89" cy="420.39" r="3.55"/>
<circle cx="126.79" cy="433.83" r="3.55"/>
<circle cx="128.7" cy="423.92" r="3.55"/>
<circle cx="130.6" cy="433.83" r="3.55"/>
<circle cx="132.51" cy="455.13" r="3.55"/>
<circle cx="134.41" cy="428.25" r="3.55"/>
<circle cx="136.32" cy="441.69" r="3.55"/>
<circle cx="138.22" cy="441.69" r="3.55"/>
<circle cx="142.03" cy="455.13" r="3.55"/>
<circle cx="143.94" cy="441.69" r="3.55"/>
<circle cx="145.84" cy="441.69" r="3.55"/>
<circle cx="149.66" cy="455.13" r="3.55"/>
<circle cx="151.56" cy="455.13" r="3.55"/>
<circle cx="155.37" cy="441.69" r="3.55"/>
<circle cx="157.27" cy="455.13" r="3.55"/>
<circle cx="162.99" cy="455.13" r="3.55"/>
<circle cx="166.8" cy="455.13" r="3.55"/>
<circle cx="168.7" cy="455.13" r="3.55"/>
<circle cx="170.61" cy="441.69" r="3.55"/>
<circle cx="172.51" cy="455.13" r="3.55"/>
<circle cx="176.32" cy="455.13" r="3.55"/>
<circle cx="223.95" cy="455.13" r="3.55"/>
</g>
<g fill="#5fa347" fill-opacity="0.6" clip-path="url(#cd)">
<circle cx="90.6" cy="325.1" r="3.55"/>
<circle cx="92.5" cy="291.2" r="3.55"/>
<circle cx="94.41" cy="323.4" r="3.55"/>
<circle cx="96.31" cy="340.5" r="3.55"/>
<circle cx="98.22" cy="350.1" r="3.55"/>
<circle cx="100.12" cy="356.1" r="3.55"/>
<circle cx="102.03" cy="365.5" r="3.55"/>
<circle cx="103.94" cy="371.6" r="3.55"/>
<circle cx="105.84" cy="376.9" r="3.55"/>
<circle cx="107.74" cy="380.2" r="3.55"/>
<circle cx="109.65" cy="383.1" r="3.55"/>
<circle cx="111.55" cy="386.8" r="3.55"/>
<circle cx="113.46" cy="396.3" r="3.55"/>
<circle cx="115.36" cy="388.9" r="3.55"/>
<circle cx="117.27" cy="395.2" r="3.55"/>
<circle cx="119.17" cy="395.2" r="3.55"/>
<circle cx="121.08" cy="410.5" r="3.55"/>
<circle cx="122.98" cy="405.7" r="3.55"/>
<circle cx="124.89" cy="407.3" r="3.55"/>
<circle cx="126.79" cy="406.6" r="3.55"/>
<circle cx="128.7" cy="406.3" r="3.55"/>
<circle cx="130.6" cy="413.6" r="3.55"/>
<circle cx="132.51" cy="415.2" r="3.55"/>
<circle cx="134.41" cy="416.8" r="3.55"/>
<circle cx="136.32" cy="436.85" r="3.55"/>
<circle cx="140.13" cy="415.2" r="3.55"/>
<circle cx="142.03" cy="422.6" r="3.55"/>
<circle cx="143.94" cy="420" r="3.55"/>
<circle cx="147.75" cy="425.2" r="3.55"/>
<circle cx="149.66" cy="436.85" r="3.55"/>
<circle cx="151.56" cy="433.32" r="3.55"/>
<circle cx="153.47" cy="430.33" r="3.55"/>
<circle cx="155.37" cy="434.32" r="3.55"/>
<circle cx="157.27" cy="441.18" r="3.55"/>
<circle cx="159.18" cy="446.76" r="3.55"/>
<circle cx="161.08" cy="441.18" r="3.55"/>
<circle cx="162.99" cy="441.18" r="3.55"/>
<circle cx="166.8" cy="446.76" r="3.55"/>
<circle cx="172.51" cy="441.18" r="3.55"/>
<circle cx="182.04" cy="436.85" r="3.55"/>
<circle cx="185.85" cy="441.18" r="3.55"/>
<circle cx="201.09" cy="441.18" r="3.55"/>
<circle cx="176.32" cy="454.62" r="3.55"/>
<circle cx="180.13" cy="454.62" r="3.55"/>
<circle cx="183.94" cy="454.62" r="3.55"/>
<circle cx="187.75" cy="454.62" r="3.55"/>
<circle cx="189.66" cy="454.62" r="3.55"/>
<circle cx="197.28" cy="454.62" r="3.55"/>
<circle cx="204.9" cy="454.62" r="3.55"/>
<circle cx="208.71" cy="454.62" r="3.55"/>
<circle cx="212.52" cy="454.62" r="3.55"/>
<circle cx="218.24" cy="454.62" r="3.55"/>
<circle cx="229.66" cy="454.62" r="3.55"/>
<circle cx="233.47" cy="454.62" r="3.55"/>
<circle cx="323.01" cy="454.62" r="3.55"/>
<circle cx="178.23" cy="468.06" r="3.55"/>
<circle cx="191.56" cy="468.06" r="3.55"/>
<circle cx="193.47" cy="468.06" r="3.55"/>
<circle cx="195.38" cy="468.06" r="3.55"/>
<circle cx="214.43" cy="468.06" r="3.55"/>
<circle cx="220.14" cy="468.06" r="3.55"/>
<circle cx="222.04" cy="468.06" r="3.55"/>
<circle cx="223.95" cy="468.06" r="3.55"/>
<circle cx="225.85" cy="468.06" r="3.55"/>
<circle cx="235.38" cy="468.06" r="3.55"/>
<circle cx="237.28" cy="468.06" r="3.55"/>
<circle cx="250.62" cy="468.06" r="3.55"/>
<circle cx="256.34" cy="468.06" r="3.55"/>
<circle cx="269.67" cy="468.06" r="3.55"/>
<circle cx="281.1" cy="468.06" r="3.55"/>
<circle cx="288.72" cy="468.06" r="3.55"/>
</g>
<line x1="84.4" y1="281.6" x2="88.7" y2="281.6" stroke="#000" stroke-width="0.98"/>
<text x="59.72" y="286.15" font-size="12.79" textLength="15.65" lengthAdjust="spacingAndGlyphs">10</text>
<text x="75.62" y="281.69" font-size="8.95" textLength="5.48" lengthAdjust="spacingAndGlyphs">0</text>
<line x1="84.4" y1="326.25" x2="88.7" y2="326.25" stroke="#000" stroke-width="0.98"/>
<text x="52.51" y="330.8" font-size="12.79" textLength="15.65" lengthAdjust="spacingAndGlyphs">10</text>
<text x="68.41" y="326.34" font-size="8.95" textLength="12.69" lengthAdjust="spacingAndGlyphs">−1</text>
<line x1="84.4" y1="370.9" x2="88.7" y2="370.9" stroke="#000" stroke-width="0.98"/>
<text x="52.51" y="375.45" font-size="12.79" textLength="15.65" lengthAdjust="spacingAndGlyphs">10</text>
<text x="68.41" y="370.99" font-size="8.95" textLength="12.69" lengthAdjust="spacingAndGlyphs">−2</text>
<line x1="84.4" y1="415.55" x2="88.7" y2="415.55" stroke="#000" stroke-width="0.98"/>
<text x="52.51" y="420.1" font-size="12.79" textLength="15.65" lengthAdjust="spacingAndGlyphs">10</text>
<text x="68.41" y="415.64" font-size="8.95" textLength="12.69" lengthAdjust="spacingAndGlyphs">−3</text>
<line x1="84.4" y1="460.2" x2="88.7" y2="460.2" stroke="#000" stroke-width="0.98"/>
<text x="52.51" y="464.75" font-size="12.79" textLength="15.65" lengthAdjust="spacingAndGlyphs">10</text>
<text x="68.41" y="460.29" font-size="8.95" textLength="12.69" lengthAdjust="spacingAndGlyphs">−4</text>
<line x1="84.4" y1="504.85" x2="88.7" y2="504.85" stroke="#000" stroke-width="0.98"/>
<text x="52.51" y="509.4" font-size="12.79" textLength="15.65" lengthAdjust="spacingAndGlyphs">10</text>
<text x="68.41" y="504.94" font-size="8.95" textLength="12.69" lengthAdjust="spacingAndGlyphs">−5</text>
<line x1="86.25" y1="491.41" x2="88.7" y2="491.41" stroke="#000" stroke-width="0.74"/>
<line x1="86.25" y1="483.55" x2="88.7" y2="483.55" stroke="#000" stroke-width="0.74"/>
<line x1="86.25" y1="477.97" x2="88.7" y2="477.97" stroke="#000" stroke-width="0.74"/>
<line x1="86.25" y1="473.64" x2="88.7" y2="473.64" stroke="#000" stroke-width="0.74"/>
<line x1="86.25" y1="470.11" x2="88.7" y2="470.11" stroke="#000" stroke-width="0.74"/>
<line x1="86.25" y1="467.12" x2="88.7" y2="467.12" stroke="#000" stroke-width="0.74"/>
<line x1="86.25" y1="464.53" x2="88.7" y2="464.53" stroke="#000" stroke-width="0.74"/>
<line x1="86.25" y1="462.24" x2="88.7" y2="462.24" stroke="#000" stroke-width="0.74"/>
<line x1="86.25" y1="446.76" x2="88.7" y2="446.76" stroke="#000" stroke-width="0.74"/>
<line x1="86.25" y1="438.9" x2="88.7" y2="438.9" stroke="#000" stroke-width="0.74"/>
<line x1="86.25" y1="433.32" x2="88.7" y2="433.32" stroke="#000" stroke-width="0.74"/>
<line x1="86.25" y1="428.99" x2="88.7" y2="428.99" stroke="#000" stroke-width="0.74"/>
<line x1="86.25" y1="425.46" x2="88.7" y2="425.46" stroke="#000" stroke-width="0.74"/>
<line x1="86.25" y1="422.47" x2="88.7" y2="422.47" stroke="#000" stroke-width="0.74"/>
<line x1="86.25" y1="419.88" x2="88.7" y2="419.88" stroke="#000" stroke-width="0.74"/>
<line x1="86.25" y1="417.59" x2="88.7" y2="417.59" stroke="#000" stroke-width="0.74"/>
<line x1="86.25" y1="402.11" x2="88.7" y2="402.11" stroke="#000" stroke-width="0.74"/>
<line x1="86.25" y1="394.25" x2="88.7" y2="394.25" stroke="#000" stroke-width="0.74"/>
<line x1="86.25" y1="388.67" x2="88.7" y2="388.67" stroke="#000" stroke-width="0.74"/>
<line x1="86.25" y1="384.34" x2="88.7" y2="384.34" stroke="#000" stroke-width="0.74"/>
<line x1="86.25" y1="380.81" x2="88.7" y2="380.81" stroke="#000" stroke-width="0.74"/>
<line x1="86.25" y1="377.82" x2="88.7" y2="377.82" stroke="#000" stroke-width="0.74"/>
<line x1="86.25" y1="375.23" x2="88.7" y2="375.23" stroke="#000" stroke-width="0.74"/>
<line x1="86.25" y1="372.94" x2="88.7" y2="372.94" stroke="#000" stroke-width="0.74"/>
<line x1="86.25" y1="357.46" x2="88.7" y2="357.46" stroke="#000" stroke-width="0.74"/>
<line x1="86.25" y1="349.6" x2="88.7" y2="349.6" stroke="#000" stroke-width="0.74"/>
<line x1="86.25" y1="344.02" x2="88.7" y2="344.02" stroke="#000" stroke-width="0.74"/>
<line x1="86.25" y1="339.69" x2="88.7" y2="339.69" stroke="#000" stroke-width="0.74"/>
<line x1="86.25" y1="336.16" x2="88.7" y2="336.16" stroke="#000" stroke-width="0.74"/>
<line x1="86.25" y1="333.17" x2="88.7" y2="333.17" stroke="#000" stroke-width="0.74"/>
<line x1="86.25" y1="330.58" x2="88.7" y2="330.58" stroke="#000" stroke-width="0.74"/>
<line x1="86.25" y1="328.29" x2="88.7" y2="328.29" stroke="#000" stroke-width="0.74"/>
<line x1="86.25" y1="312.81" x2="88.7" y2="312.81" stroke="#000" stroke-width="0.74"/>
<line x1="86.25" y1="304.95" x2="88.7" y2="304.95" stroke="#000" stroke-width="0.74"/>
<line x1="86.25" y1="299.37" x2="88.7" y2="299.37" stroke="#000" stroke-width="0.74"/>
<line x1="86.25" y1="295.04" x2="88.7" y2="295.04" stroke="#000" stroke-width="0.74"/>
<line x1="86.25" y1="291.51" x2="88.7" y2="291.51" stroke="#000" stroke-width="0.74"/>
<line x1="86.25" y1="288.52" x2="88.7" y2="288.52" stroke="#000" stroke-width="0.74"/>
<line x1="86.25" y1="285.93" x2="88.7" y2="285.93" stroke="#000" stroke-width="0.74"/>
<line x1="86.25" y1="283.64" x2="88.7" y2="283.64" stroke="#000" stroke-width="0.74"/>
<line x1="90.6" y1="504.4" x2="90.6" y2="508.7" stroke="#000" stroke-width="0.98"/>
<text x="86.69" y="520.6" font-size="12.79" textLength="7.83" lengthAdjust="spacingAndGlyphs" fill="#000">0</text>
<line x1="138.22" y1="504.4" x2="138.22" y2="508.7" stroke="#000" stroke-width="0.98"/>
<text x="130.4" y="520.6" font-size="12.79" textLength="15.65" lengthAdjust="spacingAndGlyphs" fill="#000">25</text>
<line x1="185.85" y1="504.4" x2="185.85" y2="508.7" stroke="#000" stroke-width="0.98"/>
<text x="178.02" y="520.6" font-size="12.79" textLength="15.65" lengthAdjust="spacingAndGlyphs" fill="#000">50</text>
<line x1="233.47" y1="504.4" x2="233.47" y2="508.7" stroke="#000" stroke-width="0.98"/>
<text x="225.65" y="520.6" font-size="12.79" textLength="15.65" lengthAdjust="spacingAndGlyphs" fill="#000">75</text>
<line x1="281.1" y1="504.4" x2="281.1" y2="508.7" stroke="#000" stroke-width="0.98"/>
<text x="269.36" y="520.6" font-size="12.79" textLength="23.48" lengthAdjust="spacingAndGlyphs" fill="#000">100</text>
<line x1="328.73" y1="504.4" x2="328.73" y2="508.7" stroke="#000" stroke-width="0.98"/>
<text x="316.99" y="520.6" font-size="12.79" textLength="23.48" lengthAdjust="spacingAndGlyphs" fill="#000">125</text>
<rect x="88.7" y="281.6" width="250" height="222.8" fill="none" stroke="#000" stroke-width="0.98" rx="0"/>
<rect x="251.4" y="286.4" width="82" height="62.2" fill="#fff" stroke="#cccccc" stroke-width="0.95" rx="2.2" fill-opacity="0.8"/>
<text x="259.61" y="298" font-size="10.4" textLength="65.58" lengthAdjust="spacingAndGlyphs" fill="#000">Time window</text>
<circle cx="265.9" cy="310.4" r="3.55" fill="#4470b8" fill-opacity="0.6"/>
<text x="284" y="313" font-size="10.61" textLength="45.7" lengthAdjust="spacingAndGlyphs" fill="#000">1 minute</text>
<circle cx="265.9" cy="325.2" r="3.55" fill="#de853f" fill-opacity="0.6"/>
<text x="284" y="327.8" font-size="10.61" textLength="33.09" lengthAdjust="spacingAndGlyphs" fill="#000">1 hour</text>
<circle cx="265.9" cy="340" r="3.55" fill="#5fa347" fill-opacity="0.6"/>
<text x="284" y="342.6" font-size="10.61" textLength="28.49" lengthAdjust="spacingAndGlyphs" fill="#000">1 day</text>
<text transform="rotate(-90 44.6 393)" x="26.8" y="393" font-size="14.56" font-style="italic" textLength="35.6" lengthAdjust="spacingAndGlyphs">P(k<tspan font-size="10.19" dy="2.2">in</tspan><tspan font-size="14.56" dy="-2.2">)</tspan></text>
<text x="204.6" y="537.8" font-size="14.56" font-style="italic" textLength="17.0" lengthAdjust="spacingAndGlyphs">k<tspan font-size="10.19" dy="2.2">in</tspan></text>
<text x="176" y="567.1" font-size="15.6" textLength="4.7" lengthAdjust="spacingAndGlyphs" fill="#1a1a1a">(</text>
<text x="181.4" y="566.6" font-size="13.2" textLength="7.7" lengthAdjust="spacingAndGlyphs" fill="#1a1a1a">d</text>
<text x="189.5" y="567.1" font-size="15.6" textLength="4.7" lengthAdjust="spacingAndGlyphs" fill="#1a1a1a">)</text>
<g fill="#4470b8" fill-opacity="0.6">
<circle cx="413.42" cy="291.8" r="3.55"/>
<circle cx="415.23" cy="359.89" r="3.55"/>
<circle cx="417.05" cy="377.18" r="3.55"/>
<circle cx="418.86" cy="392.87" r="3.55"/>
<circle cx="422.68" cy="392.87" r="3.55"/>
<circle cx="424.68" cy="419.69" r="3.55"/>
<circle cx="431.58" cy="419.69" r="3.55"/>
<circle cx="435.57" cy="419.69" r="3.55"/>
</g>
<g fill="#de853f" fill-opacity="0.6">
<circle cx="413.42" cy="292.2" r="3.55"/>
<circle cx="415.23" cy="346.8" r="3.55"/>
<circle cx="417.05" cy="371.5" r="3.55"/>
<circle cx="418.86" cy="389" r="3.55"/>
<circle cx="420.68" cy="403.6" r="3.55"/>
<circle cx="422.5" cy="412.3" r="3.55"/>
<circle cx="424.31" cy="425" r="3.55"/>
<circle cx="426.13" cy="435.4" r="3.55"/>
<circle cx="427.94" cy="459.93" r="3.55"/>
<circle cx="429.76" cy="438.2" r="3.55"/>
<circle cx="431.58" cy="473.34" r="3.55"/>
<circle cx="435.21" cy="446.52" r="3.55"/>
<circle cx="437.02" cy="459.93" r="3.55"/>
<circle cx="438.84" cy="473.34" r="3.55"/>
<circle cx="444.29" cy="473.34" r="3.55"/>
<circle cx="447.92" cy="473.34" r="3.55"/>
<circle cx="451.55" cy="473.34" r="3.55"/>
<circle cx="460.63" cy="452.08" r="3.55"/>
<circle cx="462.45" cy="473.34" r="3.55"/>
<circle cx="476.98" cy="473.34" r="3.55"/>
</g>
<g fill="#5fa347" fill-opacity="0.6">
<circle cx="413.42" cy="292.2" r="3.55"/>
<circle cx="415.23" cy="342.4" r="3.55"/>
<circle cx="417.05" cy="369.4" r="3.55"/>
<circle cx="418.86" cy="384.4" r="3.55"/>
<circle cx="420.68" cy="398.6" r="3.55"/>
<circle cx="422.5" cy="407.9" r="3.55"/>
<circle cx="424.31" cy="418.3" r="3.55"/>
<circle cx="426.13" cy="430.8" r="3.55"/>
<circle cx="427.94" cy="439.6" r="3.55"/>
<circle cx="429.76" cy="434" r="3.55"/>
<circle cx="431.58" cy="453.6" r="3.55"/>
<circle cx="433.39" cy="456.4" r="3.55"/>
<circle cx="435.21" cy="467.49" r="3.55"/>
<circle cx="438.84" cy="467.49" r="3.55"/>
<circle cx="449.74" cy="467.49" r="3.55"/>
<circle cx="440.66" cy="473.05" r="3.55"/>
<circle cx="437.02" cy="480.9" r="3.55"/>
<circle cx="442.47" cy="480.9" r="3.55"/>
<circle cx="464.26" cy="480.9" r="3.55"/>
<circle cx="476.98" cy="480.9" r="3.55"/>
<circle cx="444.29" cy="494.31" r="3.55"/>
<circle cx="446.1" cy="494.31" r="3.55"/>
<circle cx="453.37" cy="494.31" r="3.55"/>
<circle cx="462.45" cy="494.31" r="3.55"/>
<circle cx="467.9" cy="494.31" r="3.55"/>
<circle cx="489.69" cy="494.31" r="3.55"/>
<circle cx="493.32" cy="494.31" r="3.55"/>
<circle cx="506.03" cy="494.31" r="3.55"/>
<circle cx="526.01" cy="494.31" r="3.55"/>
<circle cx="638.6" cy="494.31" r="3.55"/>
</g>
<line x1="396.2" y1="290.9" x2="400.5" y2="290.9" stroke="#000" stroke-width="0.98"/>
<text x="371.52" y="295.45" font-size="12.79" textLength="15.65" lengthAdjust="spacingAndGlyphs">10</text>
<text x="387.42" y="290.99" font-size="8.95" textLength="5.48" lengthAdjust="spacingAndGlyphs">0</text>
<line x1="396.2" y1="335.45" x2="400.5" y2="335.45" stroke="#000" stroke-width="0.98"/>
<text x="364.31" y="340" font-size="12.79" textLength="15.65" lengthAdjust="spacingAndGlyphs">10</text>
<text x="380.21" y="335.54" font-size="8.95" textLength="12.69" lengthAdjust="spacingAndGlyphs">−1</text>
<line x1="396.2" y1="380" x2="400.5" y2="380" stroke="#000" stroke-width="0.98"/>
<text x="364.31" y="384.55" font-size="12.79" textLength="15.65" lengthAdjust="spacingAndGlyphs">10</text>
<text x="380.21" y="380.09" font-size="8.95" textLength="12.69" lengthAdjust="spacingAndGlyphs">−2</text>
<line x1="396.2" y1="424.55" x2="400.5" y2="424.55" stroke="#000" stroke-width="0.98"/>
<text x="364.31" y="429.1" font-size="12.79" textLength="15.65" lengthAdjust="spacingAndGlyphs">10</text>
<text x="380.21" y="424.64" font-size="8.95" textLength="12.69" lengthAdjust="spacingAndGlyphs">−3</text>
<line x1="396.2" y1="469.1" x2="400.5" y2="469.1" stroke="#000" stroke-width="0.98"/>
<text x="364.31" y="473.65" font-size="12.79" textLength="15.65" lengthAdjust="spacingAndGlyphs">10</text>
<text x="380.21" y="469.19" font-size="8.95" textLength="12.69" lengthAdjust="spacingAndGlyphs">−4</text>
<line x1="398.05" y1="500.24" x2="400.5" y2="500.24" stroke="#000" stroke-width="0.74"/>
<line x1="398.05" y1="492.39" x2="400.5" y2="492.39" stroke="#000" stroke-width="0.74"/>
<line x1="398.05" y1="486.83" x2="400.5" y2="486.83" stroke="#000" stroke-width="0.74"/>
<line x1="398.05" y1="482.51" x2="400.5" y2="482.51" stroke="#000" stroke-width="0.74"/>
<line x1="398.05" y1="478.98" x2="400.5" y2="478.98" stroke="#000" stroke-width="0.74"/>
<line x1="398.05" y1="476" x2="400.5" y2="476" stroke="#000" stroke-width="0.74"/>
<line x1="398.05" y1="473.42" x2="400.5" y2="473.42" stroke="#000" stroke-width="0.74"/>
<line x1="398.05" y1="471.14" x2="400.5" y2="471.14" stroke="#000" stroke-width="0.74"/>
<line x1="398.05" y1="455.69" x2="400.5" y2="455.69" stroke="#000" stroke-width="0.74"/>
<line x1="398.05" y1="447.84" x2="400.5" y2="447.84" stroke="#000" stroke-width="0.74"/>
<line x1="398.05" y1="442.28" x2="400.5" y2="442.28" stroke="#000" stroke-width="0.74"/>
<line x1="398.05" y1="437.96" x2="400.5" y2="437.96" stroke="#000" stroke-width="0.74"/>
<line x1="398.05" y1="434.43" x2="400.5" y2="434.43" stroke="#000" stroke-width="0.74"/>
<line x1="398.05" y1="431.45" x2="400.5" y2="431.45" stroke="#000" stroke-width="0.74"/>
<line x1="398.05" y1="428.87" x2="400.5" y2="428.87" stroke="#000" stroke-width="0.74"/>
<line x1="398.05" y1="426.59" x2="400.5" y2="426.59" stroke="#000" stroke-width="0.74"/>
<line x1="398.05" y1="411.14" x2="400.5" y2="411.14" stroke="#000" stroke-width="0.74"/>
<line x1="398.05" y1="403.29" x2="400.5" y2="403.29" stroke="#000" stroke-width="0.74"/>
<line x1="398.05" y1="397.73" x2="400.5" y2="397.73" stroke="#000" stroke-width="0.74"/>
<line x1="398.05" y1="393.41" x2="400.5" y2="393.41" stroke="#000" stroke-width="0.74"/>
<line x1="398.05" y1="389.88" x2="400.5" y2="389.88" stroke="#000" stroke-width="0.74"/>
<line x1="398.05" y1="386.9" x2="400.5" y2="386.9" stroke="#000" stroke-width="0.74"/>
<line x1="398.05" y1="384.32" x2="400.5" y2="384.32" stroke="#000" stroke-width="0.74"/>
<line x1="398.05" y1="382.04" x2="400.5" y2="382.04" stroke="#000" stroke-width="0.74"/>
<line x1="398.05" y1="366.59" x2="400.5" y2="366.59" stroke="#000" stroke-width="0.74"/>
<line x1="398.05" y1="358.74" x2="400.5" y2="358.74" stroke="#000" stroke-width="0.74"/>
<line x1="398.05" y1="353.18" x2="400.5" y2="353.18" stroke="#000" stroke-width="0.74"/>
<line x1="398.05" y1="348.86" x2="400.5" y2="348.86" stroke="#000" stroke-width="0.74"/>
<line x1="398.05" y1="345.33" x2="400.5" y2="345.33" stroke="#000" stroke-width="0.74"/>
<line x1="398.05" y1="342.35" x2="400.5" y2="342.35" stroke="#000" stroke-width="0.74"/>
<line x1="398.05" y1="339.77" x2="400.5" y2="339.77" stroke="#000" stroke-width="0.74"/>
<line x1="398.05" y1="337.49" x2="400.5" y2="337.49" stroke="#000" stroke-width="0.74"/>
<line x1="398.05" y1="322.04" x2="400.5" y2="322.04" stroke="#000" stroke-width="0.74"/>
<line x1="398.05" y1="314.19" x2="400.5" y2="314.19" stroke="#000" stroke-width="0.74"/>
<line x1="398.05" y1="308.63" x2="400.5" y2="308.63" stroke="#000" stroke-width="0.74"/>
<line x1="398.05" y1="304.31" x2="400.5" y2="304.31" stroke="#000" stroke-width="0.74"/>
<line x1="398.05" y1="300.78" x2="400.5" y2="300.78" stroke="#000" stroke-width="0.74"/>
<line x1="398.05" y1="297.8" x2="400.5" y2="297.8" stroke="#000" stroke-width="0.74"/>
<line x1="398.05" y1="295.22" x2="400.5" y2="295.22" stroke="#000" stroke-width="0.74"/>
<line x1="398.05" y1="292.94" x2="400.5" y2="292.94" stroke="#000" stroke-width="0.74"/>
<line x1="411.6" y1="504.4" x2="411.6" y2="508.7" stroke="#000" stroke-width="0.98"/>
<text x="407.69" y="520.6" font-size="12.79" textLength="7.83" lengthAdjust="spacingAndGlyphs" fill="#000">0</text>
<line x1="457" y1="504.4" x2="457" y2="508.7" stroke="#000" stroke-width="0.98"/>
<text x="449.17" y="520.6" font-size="12.79" textLength="15.65" lengthAdjust="spacingAndGlyphs" fill="#000">25</text>
<line x1="502.4" y1="504.4" x2="502.4" y2="508.7" stroke="#000" stroke-width="0.98"/>
<text x="494.57" y="520.6" font-size="12.79" textLength="15.65" lengthAdjust="spacingAndGlyphs" fill="#000">50</text>
<line x1="547.8" y1="504.4" x2="547.8" y2="508.7" stroke="#000" stroke-width="0.98"/>
<text x="539.97" y="520.6" font-size="12.79" textLength="15.65" lengthAdjust="spacingAndGlyphs" fill="#000">75</text>
<line x1="593.2" y1="504.4" x2="593.2" y2="508.7" stroke="#000" stroke-width="0.98"/>
<text x="581.46" y="520.6" font-size="12.79" textLength="23.48" lengthAdjust="spacingAndGlyphs" fill="#000">100</text>
<line x1="638.6" y1="504.4" x2="638.6" y2="508.7" stroke="#000" stroke-width="0.98"/>
<text x="626.86" y="520.6" font-size="12.79" textLength="23.48" lengthAdjust="spacingAndGlyphs" fill="#000">125</text>
<rect x="400.5" y="281.6" width="250" height="222.8" fill="none" stroke="#000" stroke-width="0.98" rx="0"/>
<rect x="563.4" y="286.4" width="82" height="62.2" fill="#fff" stroke="#cccccc" stroke-width="0.95" rx="2.2" fill-opacity="0.8"/>
<text x="571.61" y="298" font-size="10.4" textLength="65.58" lengthAdjust="spacingAndGlyphs" fill="#000">Time window</text>
<circle cx="577.9" cy="310.4" r="3.55" fill="#4470b8" fill-opacity="0.6"/>
<text x="596" y="313" font-size="10.61" textLength="45.7" lengthAdjust="spacingAndGlyphs" fill="#000">1 minute</text>
<circle cx="577.9" cy="325.2" r="3.55" fill="#de853f" fill-opacity="0.6"/>
<text x="596" y="327.8" font-size="10.61" textLength="33.09" lengthAdjust="spacingAndGlyphs" fill="#000">1 hour</text>
<circle cx="577.9" cy="340" r="3.55" fill="#5fa347" fill-opacity="0.6"/>
<text x="596" y="342.6" font-size="10.61" textLength="28.49" lengthAdjust="spacingAndGlyphs" fill="#000">1 day</text>
<text x="341.57" y="392.9" font-size="14.77" textLength="31.26" lengthAdjust="spacingAndGlyphs" fill="#000" transform="rotate(-90 357.2 392.9)">P(w)</text>
<text x="519.9" y="537.5" font-size="14.25" textLength="11.2" lengthAdjust="spacingAndGlyphs" fill="#000" font-style="italic">w</text>
<text x="528.5" y="567.1" font-size="15.6" textLength="4.7" lengthAdjust="spacingAndGlyphs" fill="#1a1a1a">(</text>
<text x="533.9" y="566.6" font-size="13.2" textLength="7.5" lengthAdjust="spacingAndGlyphs" fill="#1a1a1a">e</text>
<text x="542" y="567.1" font-size="15.6" textLength="4.7" lengthAdjust="spacingAndGlyphs" fill="#1a1a1a">)</text>
</svg>
</body>
</html>
